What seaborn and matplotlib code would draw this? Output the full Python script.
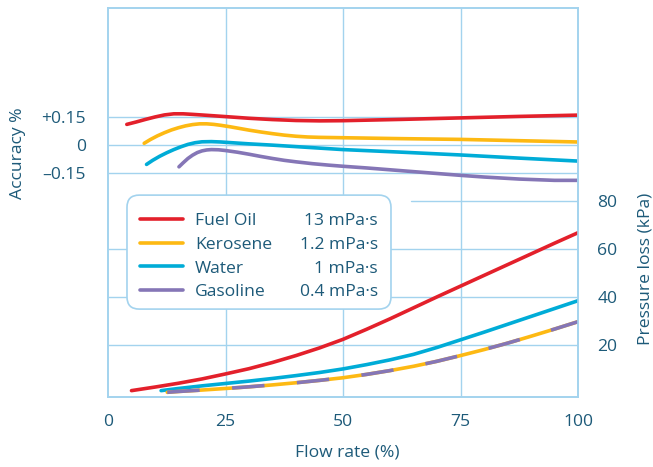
import numpy as np
import pandas as pd
import matplotlib
matplotlib.use("Agg")
import matplotlib.pyplot as plt
from matplotlib.patches import FancyBboxPatch
import seaborn as sns

# ---------------- data ----------------
fluids = ["Fuel Oil", "Kerosene", "Water", "Gasoline"]
viscosity = ["13 mPa\u00b7s", "1.2 mPa\u00b7s", "1 mPa\u00b7s", "0.4 mPa\u00b7s"]

# accuracy curves (flow %, accuracy %)
fuel_acc_x = [4, 6, 8, 10, 12, 14, 16, 18, 21, 25, 30, 35, 40, 45, 50, 62.5, 75, 87.5, 100]
fuel_acc_y = [0.112, 0.125, 0.139, 0.152, 0.163, 0.169, 0.169, 0.166, 0.161, 0.154, 0.145,
              0.138, 0.133, 0.131, 0.132, 0.139, 0.147, 0.155, 0.162]
kero_acc_x = [7.7, 9, 10.5, 12, 13.5, 15, 16.5, 18, 19.5, 21, 22.5, 24, 26, 28, 30, 32.5,
              35, 37.5, 40, 42.5, 45, 50, 62.5, 75, 87.5, 100]
kero_acc_y = [0.010, 0.030, 0.050, 0.067, 0.082, 0.094, 0.104, 0.111, 0.115, 0.115, 0.112,
              0.107, 0.099, 0.090, 0.081, 0.071, 0.062, 0.054, 0.048, 0.044, 0.042, 0.040,
              0.035, 0.031, 0.024, 0.017]
water_acc_x = [8.2, 9.5, 11, 12.5, 14, 15.5, 17, 18.5, 20, 22, 24, 27, 30, 35, 40, 45, 50,
               62.5, 75, 87.5, 100]
water_acc_y = [-0.104, -0.082, -0.060, -0.041, -0.024, -0.009, 0.004, 0.013, 0.018, 0.019,
               0.017, 0.012, 0.007, 0.000, -0.008, -0.016, -0.024, -0.038, -0.053, -0.070,
               -0.086]
gas_acc_x = [15.1, 16, 17, 18, 19, 20, 21, 22, 23.5, 25, 27.5, 30, 32.5, 35, 37.5, 40, 43.5,
             47, 50, 55, 62.5, 70, 75, 80, 87.5, 95, 100]
gas_acc_y = [-0.117, -0.095, -0.072, -0.054, -0.040, -0.031, -0.026, -0.024, -0.025, -0.029,
             -0.038, -0.049, -0.061, -0.072, -0.082, -0.090, -0.100, -0.108, -0.114, -0.123,
             -0.138, -0.153, -0.163, -0.172, -0.183, -0.190, -0.190]

# pressure loss curves (flow %, kPa)
fuel_p_x = [5, 10, 15, 20, 25, 30, 35, 40, 45, 50, 55, 60, 65, 70, 75, 80, 85, 90, 95, 100]
fuel_p_y = [0.7, 2.2, 3.8, 5.6, 7.7, 9.9, 12.5, 15.4, 18.6, 22.2, 26.4, 30.8, 35.4, 40.0,
            44.5, 49.0, 53.5, 58.0, 62.5, 66.9]
water_p_x = [11.3, 15, 20, 25, 30, 35, 40, 45, 50, 55, 60, 65, 70, 75, 80, 85, 90, 95, 100]
water_p_y = [0.7, 1.6, 2.7, 3.7, 4.7, 5.8, 7.0, 8.3, 9.8, 11.6, 13.6, 15.9, 18.8, 22.0,
             25.2, 28.5, 31.8, 35.1, 38.4]
kero_p_x = [12.6, 15, 20, 25, 30, 35, 40, 45, 50, 55, 60, 65, 70, 75, 80, 85, 90, 95, 100]
kero_p_y = [0.0, 0.35, 0.95, 1.6, 2.3, 3.1, 4.0, 5.0, 6.1, 7.5, 9.1, 10.9, 13.0, 15.4,
            17.9, 20.6, 23.5, 26.5, 29.6]
gas_p_x = [12.6, 15, 20, 25, 30, 35, 40, 45, 50, 55, 60, 65, 70, 75, 80, 85, 90, 95, 100]
gas_p_y = [0.0, 0.35, 0.95, 1.6, 2.3, 3.1, 4.0, 5.0, 6.1, 7.5, 9.1, 10.9, 13.0, 15.4,
           17.9, 20.6, 23.5, 26.5, 29.6]

x_ticks = [0, 25, 50, 75, 100]
acc_ticks = [0.15, 0, -0.15]
acc_labels = ["+0.15", "0", "\u20130.15"]
p_ticks = [20, 40, 60, 80]

# ---------------- style ----------------
sns.set_style("white")
plt.rcParams["font.family"] = ["Open Sans", "DejaVu Sans"]
TXT = "#1d5a79"
GRID = "#a3d3ee"
RED, YEL, CYA, PUR = "#e3202b", "#fdb913", "#00acd7", "#8576b6"
LW = 2.6
FS = 12.6

fig = plt.figure(figsize=(6.53, 4.67), dpi=100)
ax = fig.add_axes([108 / 653, 1 - 397 / 467, 470 / 653, 389 / 467])
ax2 = ax.twinx()

ax.set_xlim(0, 100)
ax.set_ylim(-1.359, 0.740)
ax2.set_ylim(-1.97, 161.1)

# grid lines
for v in [25, 50, 75]:
    ax.axvline(v, color=GRID, lw=1.0, zorder=0)
for v in acc_ticks:
    ax.axhline(v, color=GRID, lw=1.0, zorder=0)
for v in p_ticks:
    ax2.axhline(v, xmin=0.645 if v == 80 else 0, color=GRID, lw=1.0, zorder=0)

# accuracy curves
acc = [(fuel_acc_x, fuel_acc_y, RED), (kero_acc_x, kero_acc_y, YEL),
       (water_acc_x, water_acc_y, CYA), (gas_acc_x, gas_acc_y, PUR)]
handles = []
for xs, ys, c in acc:
    sns.lineplot(x=xs, y=ys, ax=ax, color=c, lw=LW, sort=False, estimator=None)
    handles.append(ax.lines[-1])

# pressure curves
sns.lineplot(x=fuel_p_x, y=fuel_p_y, ax=ax2, color=RED, lw=LW, sort=False, estimator=None)
sns.lineplot(x=water_p_x, y=water_p_y, ax=ax2, color=CYA, lw=LW, sort=False, estimator=None)
sns.lineplot(x=kero_p_x, y=kero_p_y, ax=ax2, color=YEL, lw=LW, sort=False, estimator=None)
sns.lineplot(x=gas_p_x, y=gas_p_y, ax=ax2, color=PUR, lw=LW, sort=False, estimator=None,
             linestyle=(0, (9, 9)))

# ticks
ax.set_xticks(x_ticks)
ax.set_xticklabels([str(t) for t in x_ticks])
ax.set_yticks(acc_ticks)
ax.set_yticklabels(acc_labels)
ax2.set_yticks(p_ticks)
ax2.set_yticklabels([str(t) for t in p_ticks])
ax.tick_params(axis="x", length=0, pad=12.5, labelsize=FS, labelcolor=TXT)
ax.tick_params(axis="y", length=0, pad=16, labelsize=FS, labelcolor=TXT)
ax2.tick_params(axis="y", length=0, pad=14, labelsize=FS, labelcolor=TXT)

for a in (ax, ax2):
    for s in a.spines.values():
        s.set_color(GRID)
        s.set_linewidth(1.2)

ax.set_xlabel("Flow rate (%)", fontsize=FS, color=TXT)
ax.xaxis.set_label_coords(0.508, -0.122)
ax.set_ylabel("Accuracy %", fontsize=FS, color=TXT)
ax.yaxis.set_label_coords(-0.174, 0.627)
ax2.set_ylabel("Pressure loss (kPa)", fontsize=FS, color=TXT)
ax2.yaxis.set_label_coords(1.127, 0.329)

# legend frame (rounded box) and legend content
frame = FancyBboxPatch((0.0404, 0.226), 0.5617, 0.293,
                       boxstyle="round,pad=0,rounding_size=0.026",
                       mutation_aspect=470 / 389, transform=ax2.transAxes,
                       facecolor="white", edgecolor=GRID, lw=1.2, zorder=4.5)
ax2.add_patch(frame)
leg = ax2.legend(handles, fluids, loc="upper left",
                 bbox_to_anchor=(0.0404, 0.226, 0.5617, 0.2795), mode="expand",
                 fontsize=FS, frameon=False, borderpad=0.73,
                 labelspacing=0.42, handlelength=2.45, handletextpad=0.7,
                 borderaxespad=0)
for t in leg.get_texts():
    t.set_color(TXT)
for lh in leg.get_lines():
    lh.set_linewidth(LW)
    lh.set_linestyle("-")
for t, v in zip(leg.get_texts(), viscosity):
    ax2.annotate(v, xy=(0.5745, 0), xycoords=(ax2.transAxes, t), ha="right", va="bottom",
                 fontsize=FS, color=TXT, zorder=7)

fig.savefig("out.png", dpi=100)
